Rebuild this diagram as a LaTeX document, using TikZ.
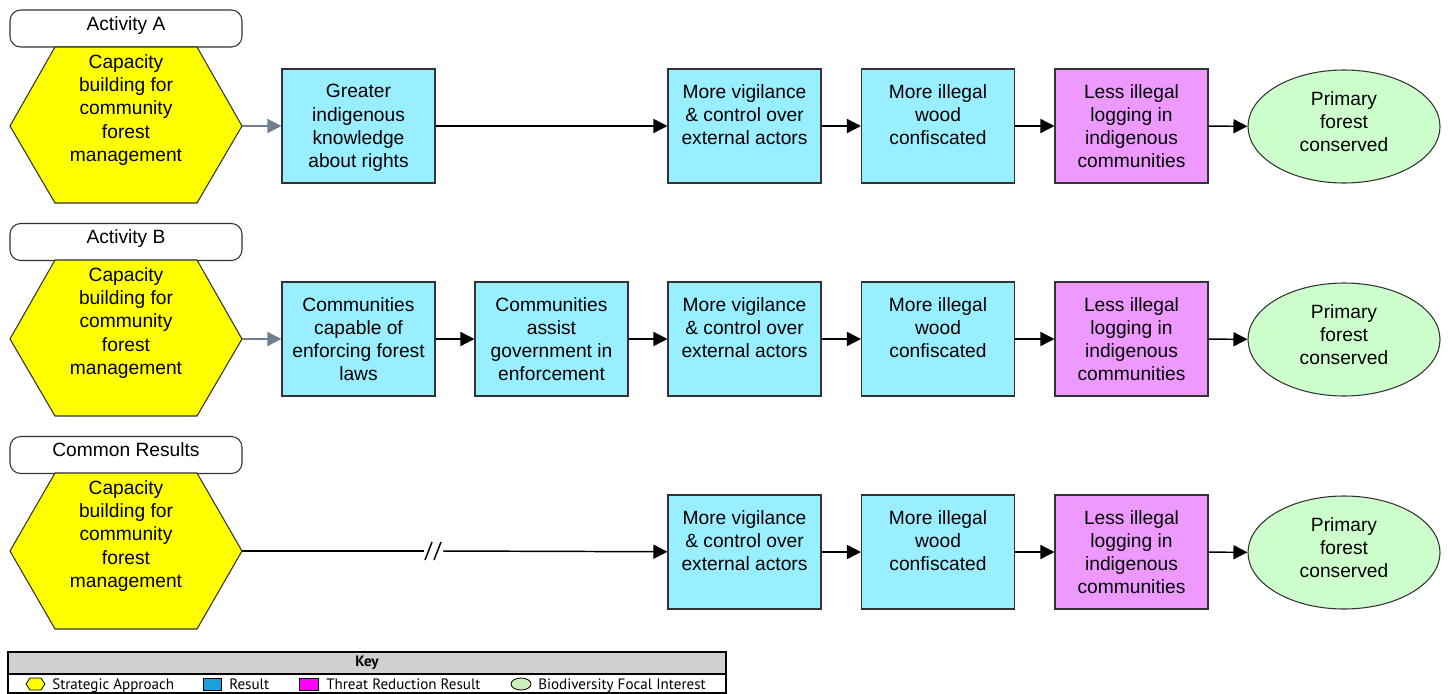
\documentclass[tikz,border=0pt]{standalone}
\usepackage{fontspec}
\setmainfont{Liberation Sans}
\newfontfamily\keyfont{PT Sans}
\usetikzlibrary{arrows.meta,shapes.geometric}
\definecolor{rescol}{HTML}{99EEFF}
\definecolor{thrcol}{HTML}{EE99FF}
\definecolor{biocol}{HTML}{CCFFCC}
\definecolor{hexcol}{HTML}{FFFF00}
\definecolor{keyblue}{HTML}{1BA0DC}
\definecolor{keymag}{HTML}{FF00FF}
\definecolor{keygreen}{HTML}{CCEEBB}
\definecolor{keygray}{HTML}{D0D0D0}
\definecolor{slate}{HTML}{6F7F90}
\begin{document}
\begin{tikzpicture}[x=0.75pt,y=-0.75pt,
  txt/.style={font=\fontsize{14.4}{17.4}\selectfont,align=center,text=black},
  result/.style={txt,draw=black!80,line width=0.8pt,fill=rescol,minimum width=114.75pt,minimum height=85.5pt,inner sep=2pt},
  threat/.style={result,fill=thrcol},
  bio/.style={ellipse,draw=black!80,line width=0.8pt,fill=biocol,minimum width=144pt,minimum height=84.75pt,inner sep=0pt},
  biotxt/.style={txt,yshift=3.8pt},
  label/.style={txt,draw=black!80,line width=0.8pt,fill=white,rounded corners=8pt,minimum width=174pt,minimum height=27.75pt,inner sep=0pt,text depth=8pt},
  hexshape/.style={draw=black!80,line width=0.8pt,fill=hexcol},
  link/.style={line width=1.1pt,-{Triangle[length=10.5pt,width=10.5pt]}},
  glink/.style={link,draw=slate},
  keytxt/.style={font=\keyfont\fontsize{11.3}{13}\selectfont,anchor=base west,inner sep=0pt}
]
\useasboundingbox (0,0) rectangle (1448,693);

% ---------- Row A ----------
\node[label] (la) at (126,28.5) {Activity A};
\draw[hexshape] (10,126) -- (55,47) -- (197,47) -- (242,126) -- (197,203) -- (55,203) -- cycle;
\coordinate (ha) at (242,126);
\node[txt] (hta) at (126,110) {Capacity\\building for\\community\\forest\\management};
\node[result] (ga) at (358.5,126) {Greater\\indigenous\\knowledge\\about \smash{rights}};
\node[result] (va) at (744.5,126) {More vigilance\\\& control over\\external actors\\~};
\node[result] (wa) at (938,126) {More illegal\\wood\\confiscated\\~};
\node[threat] (ta) at (1131.5,126) {Less illegal\\logging in\\indigenous\\communities};
\node[bio] (pa) at (1344,126.5) {};
\node[biotxt] (pat) at (pa) {Primary\\forest\\conserved};
\draw[glink] (ha) -- (ga);
\draw[link] (ga) -- (va);
\draw[link] (va) -- (wa);
\draw[link] (wa) -- (ta);
\draw[link] (ta) -- (pa);

% ---------- Row B ----------
\node[label] (lb) at (126,242) {Activity B};
\draw[hexshape] (10,339) -- (55,260) -- (197,260) -- (242,339) -- (197,416) -- (55,416) -- cycle;
\coordinate (hb) at (242,339);
\node[txt] (htb) at (126,323) {Capacity\\building for\\community\\forest\\management};
\node[result] (cb) at (358.5,339) {Communities\\capable of\\enforcing forest\\laws};
\node[result] (ab) at (551.5,339) {Communities\\assist\\government in\\enforcement};
\node[result] (vb) at (744.5,339) {More vigilance\\\& control over\\external actors\\~};
\node[result] (wb) at (938,339) {More illegal\\wood\\confiscated\\~};
\node[threat] (tb) at (1131.5,339) {Less illegal\\logging in\\indigenous\\communities};
\node[bio] (pb) at (1344,339.5) {};
\node[biotxt] (pbt) at (pb) {Primary\\forest\\conserved};
\draw[glink] (hb) -- (cb);
\draw[link] (cb) -- (ab);
\draw[link] (ab) -- (vb);
\draw[link] (vb) -- (wb);
\draw[link] (wb) -- (tb);
\draw[link] (tb) -- (pb);

% ---------- Row C ----------
\node[label] (lc) at (126,455) {Common Results};
\draw[hexshape] (10,551) -- (55,473) -- (197,473) -- (242,551) -- (197,629) -- (55,629) -- cycle;
\coordinate (hc) at (242,551);
\node[txt] (htc) at (126,536) {Capacity\\building for\\community\\forest\\management};
\node[result] (vc) at (744.5,552) {More vigilance\\\& control over\\external actors\\~};
\node[result] (wc) at (938,552) {More illegal\\wood\\confiscated\\~};
\node[threat] (tc) at (1131.5,552) {Less illegal\\logging in\\indigenous\\communities};
\node[bio] (pc) at (1344,552.5) {};
\node[biotxt] (pct) at (pc) {Primary\\forest\\conserved};
\coordinate (bk1) at (424,551);
\coordinate (bk2) at (443,551);
\draw[line width=1.1pt] (hc) -- (bk1);
\draw[link] (bk2) -- (vc);
\draw[line width=1.1pt] (425,560) -- (432,542);
\draw[line width=1.1pt] (434,560) -- (441,542);
\draw[link] (vc) -- (wc);
\draw[link] (wc) -- (tc);
\draw[link] (tc) -- (pc);

% ---------- Key ----------
\draw[line width=0.8pt,fill=keygray] (8,652) rectangle (726,674);
\draw[line width=0.8pt,fill=white] (8,674) rectangle (726,693);
\node[font=\keyfont\bfseries\fontsize{11.3}{13}\selectfont,inner sep=0pt] (keyh) at (367,663) {Key};
\draw[line width=0.6pt,fill=hexcol] (26,684) -- (30,678) -- (41,678) -- (45,684) -- (41,690) -- (30,690) -- cycle;
\node[keytxt] (k1) at (52,689) {Strategic Approach};
\draw[line width=0.6pt,fill=keyblue] (203,678) rectangle (221,690);
\node[keytxt] (k2) at (229,689) {Result};
\draw[line width=0.6pt,fill=keymag] (299,678) rectangle (318,690);
\node[keytxt] (k3) at (326,689) {Threat Reduction Result};
\draw[line width=0.6pt,fill=keygreen] (521,684) ellipse (10 and 6);
\node[keytxt] (k4) at (538,689) {Biodiversity Focal Interest};
\end{tikzpicture}
\end{document}
